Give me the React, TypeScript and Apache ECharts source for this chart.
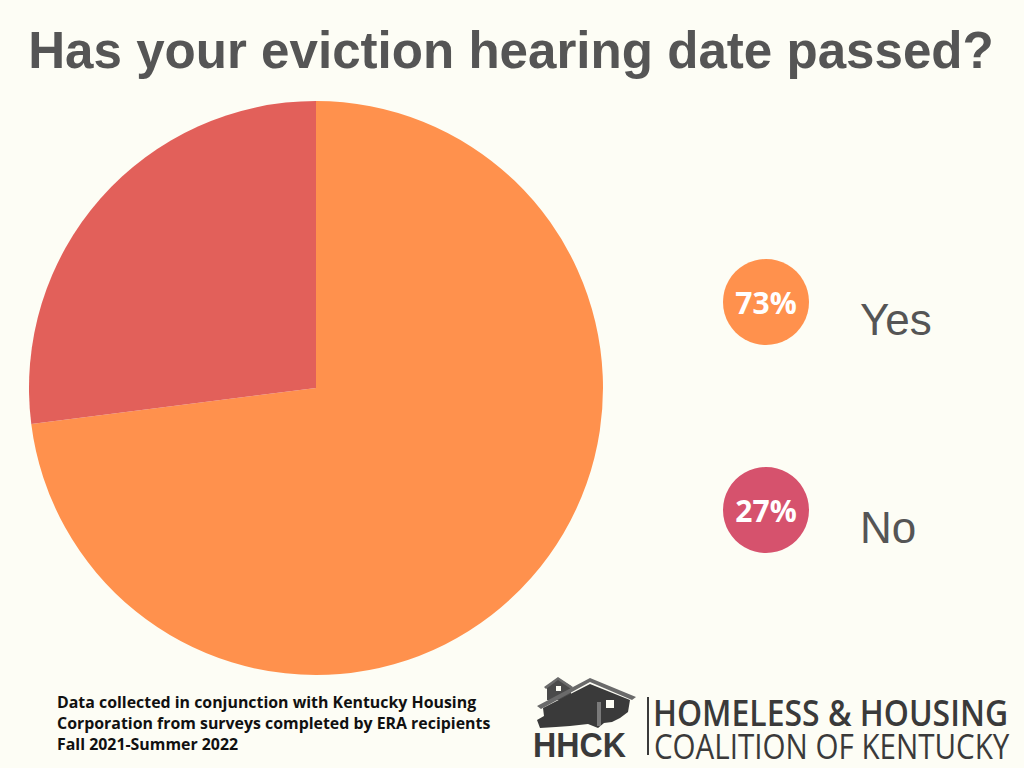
import React, { useEffect, useRef } from "react";
import * as echarts from "echarts";

const categories = ["Yes", "No"];
const values = [73, 27];
const sliceColors = ["#FF914D", "#E2605A"];
const badgeColors = ["#FF914D", "#D6526D"];
const titleText = "Has your eviction hearing date passed?";
const footnoteLines = [
  "Data collected in conjunction with Kentucky Housing",
  "Corporation from surveys completed by ERA recipients",
  "Fall 2021-Summer 2022",
];
const logoLines = ["HOMELESS & HOUSING", "COALITION OF KENTUCKY", "HHCK"];

export default function App() {
  const ref = useRef<HTMLDivElement>(null);
  useEffect(() => {
    document.body.style.margin = "0";
    const chart = echarts.init(ref.current!, null, { renderer: "svg" });
    const badgeY = [302, 510];
    const legendGraphics: any[] = [];
    categories.forEach((c, i) => {
      legendGraphics.push({
        type: "circle",
        shape: { cx: 766, cy: badgeY[i], r: 43 },
        style: { fill: badgeColors[i] },
      });
      legendGraphics.push({
        type: "text",
        x: 766,
        y: badgeY[i],
        style: {
          text: values[i] + "%",
          fill: "#FFFFFF",
          font: "bold 30px 'Open Sans', sans-serif",
          textAlign: "center",
          textVerticalAlign: "middle",
        },
      });
      legendGraphics.push({
        type: "text",
        x: 860,
        y: badgeY[i] + 17,
        style: {
          text: c,
          fill: "#555555",
          font: "44px 'Liberation Sans', Arial, sans-serif",
          textAlign: "left",
          textVerticalAlign: "middle",
        },
      });
    });

    const footGraphics = footnoteLines.map((t, i) => ({
      type: "text",
      x: 57,
      y: 702 + i * 21,
      style: {
        text: t,
        fill: "#111111",
        font: "bold 15.9px 'Open Sans', sans-serif",
        textAlign: "left",
        textVerticalAlign: "middle",
      },
    }));

    const logoColor = "#3A3A3A";
    const logoGraphics: any[] = [
      {
        type: "polygon",
        shape: { points: [[547, 700], [547, 686], [558, 678], [571, 686], [571, 700]] },
        style: { fill: "#4A4A4A" },
      },
      {
        type: "polygon",
        shape: { points: [[544, 687], [558, 677], [573, 687], [571, 689], [558, 680], [546, 689]] },
        style: { fill: "#6A6A6A" },
      },
      {
        type: "polygon",
        shape: { points: [[537, 706], [590, 678], [636, 697], [632, 700], [590, 682], [541, 709]] },
        style: { fill: "#6A6A6A" },
      },
      {
        type: "polygon",
        shape: {
          points: [
            [543, 708], [590, 684], [630, 700], [628, 712], [620, 718], [612, 722],
            [604, 723], [598, 728], [588, 724], [570, 726], [556, 727], [540, 728],
            [537, 720], [544, 716],
          ],
        },
        style: { fill: logoColor },
      },
      {
        type: "rect",
        shape: { x: 597, y: 702, width: 4, height: 24 },
        style: { fill: "#7A7A7A" },
      },
      {
        type: "rect",
        shape: { x: 606, y: 700, width: 8, height: 8 },
        style: { fill: "#FDFDF5" },
      },
      {
        type: "rect",
        shape: { x: 556, y: 686, width: 5, height: 5 },
        style: { fill: "#FDFDF5" },
      },
      {
        type: "text",
        x: 533,
        y: 745,
        scaleX: 0.92,
        style: {
          text: logoLines[2],
          fill: logoColor,
          font: "bold 35px 'Liberation Sans', Arial, sans-serif",
          textAlign: "left",
          textVerticalAlign: "middle",
        },
      },
      {
        type: "rect",
        shape: { x: 647, y: 697, width: 2, height: 58 },
        style: { fill: logoColor },
      },
      {
        type: "text",
        x: 653,
        y: 712,
        scaleX: 0.887,
        style: {
          text: logoLines[0],
          fill: logoColor,
          font: "600 36px 'Open Sans', sans-serif",
          textAlign: "left",
          textVerticalAlign: "middle",
        },
      },
      {
        type: "text",
        x: 654,
        y: 745,
        scaleX: 0.845,
        style: {
          text: logoLines[1],
          fill: logoColor,
          font: "35px 'Open Sans', sans-serif",
          textAlign: "left",
          textVerticalAlign: "middle",
        },
      },
    ];

    chart.setOption({
      animation: false,
      backgroundColor: "#FDFDF5",
      graphic: [
        {
          type: "text",
          x: 511,
          y: 50,
          scaleX: 0.983,
          originX: 0,
          style: {
            text: titleText,
            fill: "#555555",
            font: "bold 52px 'Liberation Sans', Arial, sans-serif",
            textAlign: "center",
            textVerticalAlign: "middle",
          },
        },
        ...legendGraphics,
        ...footGraphics,
        ...logoGraphics,
      ],
      series: [
        {
          type: "pie",
          center: [316, 388],
          radius: 287,
          startAngle: 90,
          clockwise: true,
          label: { show: false },
          labelLine: { show: false },
          emphasis: { disabled: true },
          data: categories.map((c, i) => ({
            name: c,
            value: values[i],
            itemStyle: { color: sliceColors[i] },
          })),
        },
      ],
    });
    return () => chart.dispose();
  }, []);
  return (
    <div
      ref={ref}
      style={{ position: "fixed", left: 0, top: 0, width: 1024, height: 768 }}
    />
  );
}
